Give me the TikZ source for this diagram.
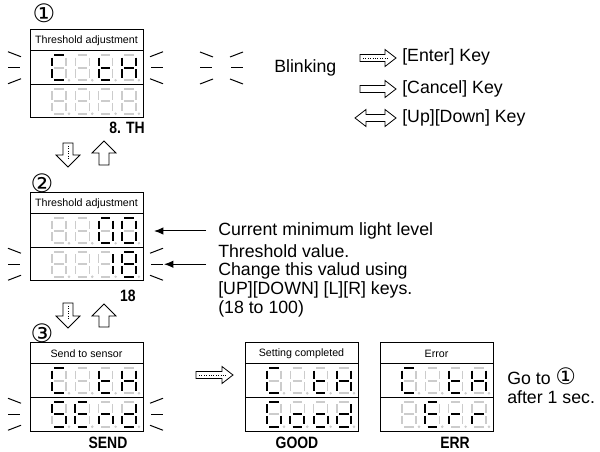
\documentclass[tikz,border=0pt]{standalone}
\usepackage{fontspec}
\setmainfont{Liberation Sans}
\newfontfamily\circfont{DejaVu Sans}
\newfontfamily\narrowbf{Liberation Sans Bold}[FakeStretch=0.85]
\usetikzlibrary{arrows.meta}
\definecolor{segg}{gray}{0.8}
\tikzset{
  segoff/.style={draw=segg, line width=1.2pt},
  segon/.style={draw=black, line width=1.35pt},
  dotoff/.style={draw=segg, fill=segg, line width=0.3pt},
  boxline/.style={draw=black, line width=0.75pt},
  titletext/.style={inner sep=0pt, font=\fontsize{8}{9}\selectfont},
  lab/.style={inner sep=0pt, font=\narrowbf\fontsize{12.3}{14}\selectfont},
  txt/.style={inner sep=0pt, anchor=west, font=\fontsize{13.3}{15}\selectfont},
  circ/.style={inner sep=0pt, font=\circfont\fontsize{19}{21}\selectfont},
  blink/.style={draw=black, line width=0.75pt},
  hollow/.style={draw=black, line width=0.6pt, fill=white, line join=miter},
  dots/.style={draw=black, line width=0.6pt, dash pattern=on 0.6pt off 1.2pt},
  ptr/.style={draw=black, line width=0.75pt, -{Latex[length=7pt,width=5.5pt]}},
}
\newcommand\sdig[3]{%
\begin{scope}[shift={(#1,#2)}]
 \coordinate (sa1) at (2.4,0); \coordinate (sa2) at (11.6,0);
 \coordinate (sb1) at (14,2.4); \coordinate (sb2) at (14,10.8);
 \coordinate (sc1) at (14,14.2); \coordinate (sc2) at (14,22.6);
 \coordinate (sd1) at (2.4,25); \coordinate (sd2) at (11.6,25);
 \coordinate (se1) at (0,14.2); \coordinate (se2) at (0,22.6);
 \coordinate (sf1) at (0,2.4); \coordinate (sf2) at (0,10.8);
 \coordinate (sg1) at (2.4,12.5); \coordinate (sg2) at (11.6,12.5);
 \foreach \s in {a,b,c,d,e,f,g} \draw[segoff] (s\s1) -- (s\s2);
 \draw[dotoff] (17,25) circle (0.8pt);
 \ifx\relax#3\relax\else
 \foreach \s in {#3} \draw[segon] (s\s1) -- (s\s2);
 \fi
\end{scope}}
\newcommand\drow[6]{%
 \sdig{#1+22}{#2-12.5}{#3}\sdig{#1+45.3}{#2-12.5}{#4}%
 \sdig{#1+68.6}{#2-12.5}{#5}\sdig{#1+91.9}{#2-12.5}{#6}}
\newcommand\dispbox[4]{%
 \draw[boxline] (#2,#3) rectangle (#2+113,#3+88);
 \draw[boxline] (#2,#3+21) -- (#2+113,#3+21);
 \draw[boxline] (#2,#3+54.5) -- (#2+113,#3+54.5);
 \node[titletext] (#1) at (#2+56.5,#3+10.5) {#4};}
\newcommand\blinkL[2]{%
 \draw[blink] (#1-22,#2-16) -- (#1-9,#2-11);
 \draw[blink] (#1-22,#2) -- (#1-10,#2);
 \draw[blink] (#1-22,#2+16) -- (#1-9,#2+11);}
\newcommand\blinkR[2]{%
 \draw[blink] (#1+7,#2-11) -- (#1+20,#2-16);
 \draw[blink] (#1+8,#2) -- (#1+20,#2);
 \draw[blink] (#1+7,#2+11) -- (#1+20,#2+16);}
\newcommand\arrR[3]{% x0 x1 y
 \draw[hollow] (#1,#3-3.5) -- (#2-11,#3-3.5) -- (#2-11,#3-8.5) -- (#2,#3) -- (#2-11,#3+8.5) -- (#2-11,#3+3.5) -- (#1,#3+3.5) -- cycle;}
\newcommand\arrLR[3]{%
 \draw[hollow] (#1+11,#3-3.5) -- (#2-11,#3-3.5) -- (#2-11,#3-8.5) -- (#2,#3) -- (#2-11,#3+8.5) -- (#2-11,#3+3.5) -- (#1+11,#3+3.5) -- (#1+11,#3+8.5) -- (#1,#3) -- (#1+11,#3-8.5) -- cycle;}
\newcommand\arrD[3]{% x y0 y1 (tip at y1)
 \draw[hollow] (#1-5,#2) -- (#1-5,#3-12) -- (#1-12,#3-12) -- (#1,#3) -- (#1+12,#3-12) -- (#1+5,#3-12) -- (#1+5,#2) -- cycle;}
\newcommand\arrU[3]{% x y0(tip) y1
 \draw[hollow] (#1-5,#3) -- (#1-5,#2+12) -- (#1-12,#2+12) -- (#1,#2) -- (#1+12,#2+12) -- (#1+5,#2+12) -- (#1+5,#3) -- cycle;}
\begin{document}
\begin{tikzpicture}[x=0.75pt,y=-0.75pt]
\path[use as bounding box] (0,0) rectangle (600,452);

% ---------- display 1
\node[circ] (c1) at (44,13) {①};
\dispbox{d1}{30}{30}{Threshold adjustment}
\drow{30}{67.75}{a,d,e,f}{}{d,e,f,g}{b,c,e,f,g}
\drow{30}{101.25}{}{}{}{}
\blinkL{30}{67.75}\blinkR{143}{67.75}
\node[lab] (l1) at (127,128) {8. TH};

% arrows 1-2
\arrD{68}{143}{167}
\draw[dots] (68,146) -- (68,160);
\arrU{104}{141}{165}

% ---------- display 2
\node[circ] (c2) at (42,183) {②};
\dispbox{d2}{30}{193}{Threshold adjustment}
\drow{30}{230.75}{}{}{a,b,c,d,e,f}{a,b,c,d,e,f}
\drow{30}{264.25}{}{}{b,c}{a,b,c,d,e,f,g}
\blinkL{30}{264.25}\blinkR{143}{264.25}
\node[lab] (l2) at (128,296) {18};

\node[txt] (t1) at (218,231) {Current minimum light level};
\node[txt] (t2) at (218,251) {Threshold value.};
\node[txt] (t3) at (218,271) {Change this valud using};
\node[txt] (t4) at (218,290) {[UP][DOWN] [L][R] keys.};
\node[txt] (t5) at (218,309) {(18 to 100)};
\coordinate (p1s) at (206,231); \coordinate (p1e) at (154,231);
\coordinate (p2s) at (206,264.25); \coordinate (p2e) at (164,264.25);
\draw[ptr] (p1s) -- (p1e);
\draw[ptr] (p2s) -- (p2e);

% arrows 2-3
\arrD{68}{303}{328}
\draw[dots] (68,306) -- (68,320);
\arrU{104}{304}{327}

% ---------- display 3
\node[circ] (c3) at (42,333) {③};
\dispbox{d3}{30}{343}{Send to sensor}
\drow{30}{380.75}{a,d,e,f}{}{d,e,f,g}{b,c,e,f,g}
\drow{30}{414.25}{a,c,d,f,g}{a,d,e,f,g}{c,e,g}{b,c,d,e,g}
\blinkL{30}{414.25}\blinkR{143}{414.25}
\node[lab] (l3) at (108,443) {SEND};

\arrR{196}{233}{375}
\draw[dots] (199,375) -- (226,375);

% ---------- setting completed
\dispbox{d4}{245}{343}{Setting completed}
\drow{245}{380.75}{a,d,e,f}{}{d,e,f,g}{b,c,e,f,g}
\drow{245}{414.25}{a,c,d,e,f}{c,d,e,g}{c,d,e,g}{b,c,d,e,g}
\node[lab] (l4) at (297,443) {GOOD};

% ---------- error
\dispbox{d5}{380}{343}{Error}
\drow{380}{380.75}{a,d,e,f}{}{d,e,f,g}{b,c,e,f,g}
\drow{380}{414.25}{}{a,d,e,f,g}{e,g}{e,g}
\node[lab] (l5) at (455,443) {ERR};

\node[txt] (g1) at (507,376) {Go to {\circfont\fontsize{17}{19}\selectfont ①}};
\node[txt] (g2) at (507,397) {after 1 sec.};

% ---------- legend
\blinkL{222}{68}\blinkR{223}{68}
\node[txt] (bl) at (274,68) {Blinking};
\arrR{360}{396}{58}
\draw[dots] (363,58) -- (389,58);
\node[txt] (k1) at (402,57) {[Enter] Key};
\arrR{360}{396}{89}
\node[txt] (k2) at (402,89) {[Cancel] Key};
\arrLR{355}{396}{118}
\node[txt] (k3) at (402,118) {[Up][Down] Key};
\end{tikzpicture}
\end{document}
